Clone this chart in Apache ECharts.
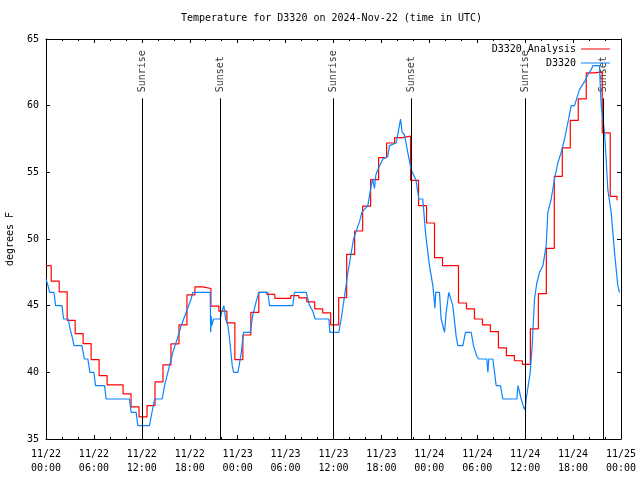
<!DOCTYPE html>
<html><head><meta charset="utf-8">
<script src="https://cdn.jsdelivr.net/npm/echarts@6/dist/echarts.min.js"></script>
<style>html,body{margin:0;padding:0;background:#fff}#c{width:640px;height:480px}</style>
</head><body><div id="c"></div>
<script>
// ---- data ----
const chartTitle = 'Temperature for D3320 on 2024-Nov-22 (time in UTC)';
const yAxisName = 'degrees F';
const tickLabels = ['11/22\n00:00','11/22\n06:00','11/22\n12:00','11/22\n18:00',
  '11/23\n00:00','11/23\n06:00','11/23\n12:00','11/23\n18:00',
  '11/24\n00:00','11/24\n06:00','11/24\n12:00','11/24\n18:00','11/25\n00:00'];

// Analysis (hours since 11/22 00:00 UTC, deg F)
const analysisHours = [0, 0.65, 1.65, 2.65, 3.65, 4.65, 5.65, 6.65, 7.65, 8.65, 9.65,
  10.65, 11.65, 12.65, 13.65, 14.65, 15.65, 16.65, 17.65, 18.65, 19.65,
  20.65, 21.65, 22.65, 23.65, 24.65, 25.65, 26.65, 27.65, 28.65, 29.65,
  30.65, 31.65, 32.65, 33.65, 34.65, 35.65, 36.65, 37.65, 38.65, 39.65,
  40.65, 41.65, 42.65, 43.65, 44.65, 45.65, 46.65, 47.65, 48.65, 49.65,
  50.65, 51.65, 52.65, 53.65, 54.65, 55.65, 56.65, 57.65, 58.65, 59.65,
  60.65, 61.65, 62.65, 63.65, 64.65, 65.65, 66.65, 67.65, 68.65, 69.65,
  70.65, 71.5];
const analysisTemps = [48.0, 46.84, 46.04, 43.89, 42.91, 42.16, 40.96, 39.76, 39.06, 39.06, 38.39,
  37.41, 36.66, 37.51, 39.29, 40.56, 42.14, 43.56, 45.81, 46.41, 46.29,
  44.96, 44.59, 43.71, 40.96, 42.8, 44.5, 46.0, 45.84, 45.54, 45.54,
  45.76, 45.59, 45.29, 44.76, 44.46, 43.56, 45.6, 48.84, 50.6, 52.46,
  54.46, 56.1, 57.2, 57.6, 57.71, 54.4, 52.5, 51.2, 48.6, 48.0,
  48.0, 45.2, 44.76, 44.0, 43.56, 43.06, 41.84, 41.26, 40.87, 40.59,
  43.26, 45.9, 49.3, 54.7, 56.84, 58.89, 60.51, 62.46, 62.54, 57.96,
  53.2, 52.9];

// Observations
const obsHours = [0, 0.25, 0.46, 1.0, 1.2, 2.0, 2.2, 2.78, 3.0, 3.3, 3.5, 4.5, 4.8, 5.24, 5.5, 6.0, 6.2,
  7.33, 7.53, 10.45, 10.66, 11.29, 11.5, 12.96, 13.2, 13.6, 14.55, 14.84, 15.26, 15.88, 16.43,
  16.93, 17.55, 18.17, 18.38, 20.56, 20.62, 20.7, 20.76, 20.98, 21.81, 22.0, 22.27, 22.5, 22.78,
  22.99, 23.32, 23.49, 24.03, 24.24, 24.45, 24.74, 25.57, 25.9, 26.32, 26.65, 27.78, 27.99,
  30.9, 31.11, 32.58, 33.0, 33.4, 33.7, 35.42, 35.55, 36.67, 36.96, 37.38, 37.8, 38.09, 38.51,
  38.76, 39.26, 39.55, 40.3, 40.72, 40.9, 41.13, 41.3, 41.55, 42.18, 42.8, 43.01, 43.85, 44.1,
  44.39, 44.6, 44.89, 45.3, 45.72, 46.34, 46.68, 47.18, 47.52, 47.81, 48.02, 48.44, 48.7, 48.8,
  48.94, 49.27, 49.48, 49.9, 50.11, 50.44, 50.6, 50.94, 51.36, 51.57, 52.2, 52.53, 53.24, 53.53,
  53.95, 54.2, 55.2, 55.33, 55.45, 55.95, 56.16, 56.37, 56.91, 57.2, 58.96, 59.1, 59.3, 59.5,
  59.75, 59.92, 60.05, 60.13, 60.34, 60.63, 60.88, 61.0, 61.17, 61.46, 61.8, 62.22, 62.63, 62.84,
  63.26, 63.67, 64.09, 64.51, 64.93, 65.34, 65.76, 66.18, 66.8, 67.43, 67.85, 68.27, 68.47, 69.31,
  69.4, 69.52, 69.93, 70.14, 70.35, 70.77, 71.19, 71.6, 71.81];
const obsTemps = [47.0, 46.5, 46.0, 46.0, 45.0, 45.0, 44.0, 44.0, 43.3, 42.6, 42.0, 42.0, 41.0, 41.0, 40.0, 40.0, 39.0,
  39.0, 38.0, 38.0, 37.0, 37.0, 36.0, 36.0, 36.8, 38.0, 38.0, 39.0, 40.0, 41.5, 42.5,
  43.5, 44.5, 45.5, 46.0, 46.0, 43.0, 44.2, 43.5, 44.0, 44.0, 44.5, 45.0, 44.0, 43.5,
  42.5, 40.5, 40.0, 40.0, 40.7, 41.5, 43.0, 43.0, 44.3, 45.3, 46.0, 46.0, 45.0,
  45.0, 46.0, 46.0, 45.0, 44.6, 44.0, 44.0, 43.0, 43.0, 44.0, 45.7, 47.5, 48.5, 50.0,
  50.0, 51.3, 52.0, 52.5, 54.0, 54.5, 53.8, 54.8, 55.2, 56.0, 56.2, 57.0, 57.2, 58.0,
  59.0, 58.0, 57.8, 56.5, 55.2, 54.4, 53.0, 53.0, 50.5, 49.0, 48.0, 46.5, 44.8, 46.0,
  46.0, 46.0, 44.0, 43.0, 44.5, 46.0, 46.0, 45.0, 42.7, 42.0, 42.0, 43.0, 43.0, 42.0,
  41.2, 41.0, 41.0, 40.0, 41.0, 41.0, 40.0, 39.0, 39.0, 38.0, 38.0, 39.0, 39.0, 38.0,
  37.5, 37.2, 37.5, 38.0, 38.0, 40.0, 42.0, 43.5, 45.5, 46.7, 47.5, 48.0, 49.5, 52.0,
  53.0, 54.5, 55.7, 56.5, 57.5, 58.7, 60.0, 60.0, 61.2, 61.8, 62.3, 62.7, 63.0, 63.0,
  61.5, 60.0, 58.0, 56.0, 53.7, 52.0, 49.0, 46.5, 46.0];

const sunriseHours = [12.08, 36.0, 60.04];
const sunsetHours = [21.85, 45.77, 69.81];
const sunLineTop = 60.55;   // where the vertical marker lines stop
const sunLabelBase = 61.0;  // where the rotated labels start

// ---- build ----
const FONT = 'DejaVu Sans Mono';
const RED = '#ff0000', BLUE = '#0a84ff';
const zip = (a, b) => a.map((v, i) => [v, b[i]]);
const sunEvents = sunriseHours.map(h => [h, 'Sunrise']).concat(sunsetHours.map(h => [h, 'Sunset']));

const chart = echarts.init(document.getElementById('c'), null, {renderer: 'canvas'});
const axisCommon = {
  type: 'value', min: 0, max: 72, interval: 6,
  axisLine: {show: true, onZero: false, lineStyle: {color: '#000', width: 1}},
  axisTick: {show: true, inside: true, length: 4, lineStyle: {color: '#000'}},
  minorTick: {show: true, splitNumber: 3, length: 2, lineStyle: {color: '#000'}},
  splitLine: {show: false}, minorSplitLine: {show: false}
};
const yCommon = {
  type: 'value', min: 35, max: 65, interval: 5,
  axisLine: {show: true, onZero: false, lineStyle: {color: '#000', width: 1}},
  axisTick: {show: true, inside: true, length: 4, lineStyle: {color: '#000'}},
  splitLine: {show: false}
};
chart.setOption({
  animation: false,
  backgroundColor: '#fff',
  title: {text: chartTitle, left: 181, top: 13, padding: 0,
    textStyle: {fontFamily: FONT, fontSize: 10, fontWeight: 'normal', color: '#000'}},
  legend: {
    data: [{name: 'D3320 Analysis', icon: 'rect', itemStyle: {color: RED}},
           {name: 'D3320', icon: 'rect', itemStyle: {color: BLUE}}],
    orient: 'vertical', right: 30, top: 43, padding: 0,
    align: 'right', itemWidth: 29, itemHeight: 1, itemGap: 2,
    textStyle: {fontFamily: FONT, fontSize: 10, color: '#000', lineHeight: 12}
  },
  grid: {left: 46, right: 19, top: 39, bottom: 41, containLabel: false, outerBoundsMode: 'none'},
  xAxis: [
    Object.assign({}, axisCommon, {position: 'bottom',
      axisLabel: {show: true, color: '#000', fontFamily: FONT, fontSize: 10, lineHeight: 14, margin: 8,
        formatter: v => tickLabels[Math.round(v / 6)]}}),
    Object.assign({}, axisCommon, {position: 'top', axisLabel: {show: false}})
  ],
  yAxis: [
    Object.assign({}, yCommon, {position: 'left', name: yAxisName, nameLocation: 'middle', nameGap: 31,
      nameTextStyle: {fontFamily: FONT, fontSize: 10, color: '#000'},
      axisLabel: {show: true, color: '#000', fontFamily: FONT, fontSize: 10, margin: 7}}),
    Object.assign({}, yCommon, {position: 'right', axisLabel: {show: false}})
  ],
  series: [
    {
      name: 'sun', type: 'scatter', xAxisIndex: 0, yAxisIndex: 0, silent: true,
      symbolSize: 0, data: sunEvents.map(e => [e[0], sunLabelBase, e[1]]),
      label: {show: true, position: 'inside', rotate: 90, align: 'left', verticalAlign: 'middle',
        fontFamily: FONT, fontSize: 10, color: '#000', formatter: p => p.data[2]},
      markLine: {
        silent: true, symbol: ['none', 'none'], label: {show: false},
        lineStyle: {color: '#000', width: 1, type: 'solid'},
        data: sunEvents.map(e => [{coord: [e[0], 35]}, {coord: [e[0], sunLineTop]}])
      }
    },
    {
      name: 'D3320 Analysis', type: 'line', step: 'end', symbol: 'none',
      lineStyle: {color: RED, width: 1.2}, itemStyle: {color: RED},
      data: zip(analysisHours, analysisTemps)
    },
    {
      name: 'D3320', type: 'line', symbol: 'none',
      lineStyle: {color: BLUE, width: 1.2}, itemStyle: {color: BLUE},
      data: zip(obsHours, obsTemps)
    }
  ]
});
</script></body></html>
